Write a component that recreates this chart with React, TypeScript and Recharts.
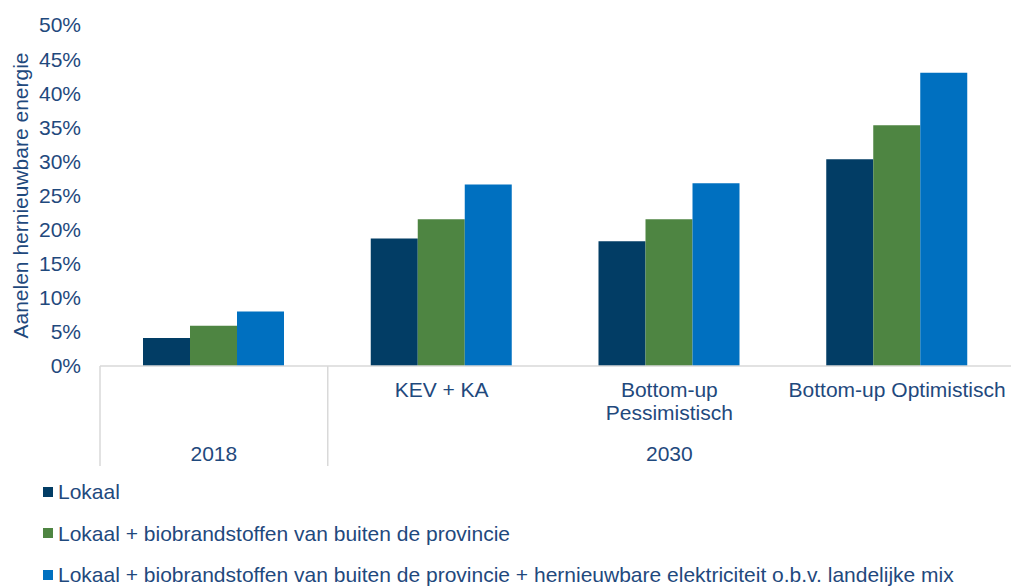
import React from "react";
import {Bar, BarChart, Legend, XAxis, YAxis} from "recharts";

// waarden (in %)
const periods = ["2018", "2030", "2030", "2030"];
const scenarioLines = [[], ["KEV + KA"], ["Bottom-up", "Pessimistisch"], ["Bottom-up Optimistisch"]];
const lokaal = [4.1, 18.7, 18.3, 30.3];
const lokaalBio = [5.9, 21.5, 21.5, 35.3];
const lokaalBioElek = [8.0, 26.6, 26.8, 43.0];
const yTicks = [0, 5, 10, 15, 20, 25, 30, 35, 40, 45, 50];

const seriesNames = [
    "Lokaal",
    "Lokaal + biobrandstoffen van buiten de provincie",
    "Lokaal + biobrandstoffen van buiten de provincie + hernieuwbare elektriciteit o.b.v. landelijke mix",
];

const data = periods.map((p, i) => ({
    id: String(i),
    lokaal: lokaal[i],
    lokaalBio: lokaalBio[i],
    lokaalBioElek: lokaalBioElek[i],
}));

const WIDTH = 1011;
const HEIGHT = 586;
const Y_AXIS_W = 100;
const TEXT = "#1F497D";
const FONT = "'Liberation Sans', Arial, sans-serif";
const FS = 21;

function CategoryTick(props) {
    const {x, y, index} = props;
    const band = (WIDTH - Y_AXIS_W) / periods.length;
    const lines = scenarioLines[index] || [];
    const first = periods.indexOf(periods[index]);
    const last = periods.lastIndexOf(periods[index]);
    const isStart = first === index;
    return (
        <g>
            {lines.map((l, k) => (
                <text key={k} x={x} y={y + 31 + k * 23} textAnchor="middle"
                      fill={TEXT} fontSize={FS} fontFamily={FONT}>{l}</text>
            ))}
            {isStart && (
                <text x={x + ((first + last) / 2 - index) * band} y={y + 95} textAnchor="middle"
                      fill={TEXT} fontSize={FS} fontFamily={FONT}>{periods[index]}</text>
            )}
            {isStart && (
                <line x1={x - band / 2} x2={x - band / 2} y1={y} y2={y + 100}
                      stroke="#D9D9D9" strokeWidth={1.5}/>
            )}
        </g>
    );
}

function LegendBox(props) {
    const {payload} = props;
    return (
        <div style={{height: 120, paddingTop: 5, paddingLeft: 43, boxSizing: "border-box"}}>
            {(payload || []).map((item, i) => (
                <div key={i} style={{height: 41.5, lineHeight: "41.5px", display: "flex", alignItems: "center"}}>
                    <span style={{width: 10, height: 10, background: item.color, display: "inline-block", marginRight: 5}}/>
                    <span style={{color: TEXT, fontSize: FS, fontFamily: FONT}}>{item.value}</span>
                </div>
            ))}
        </div>
    );
}

function YLabel(props) {
    const vb = props.viewBox;
    const cx = vb.x + 20;
    const cy = vb.y + vb.height / 2;
    return (
        <text x={cx} y={cy} transform={`rotate(-90, ${cx}, ${cy})`} textAnchor="middle"
              dominantBaseline="central" fill={TEXT} fontSize={FS} fontFamily={FONT}>
            Aanelen hernieuwbare energie
        </text>
    );
}

export default function App() {
    return (
        <div>
            <style>{"body{margin:0}"}</style>
            <BarChart width={WIDTH} height={HEIGHT} data={data} barGap={0}
                      margin={{top: 25, right: 0, left: 0, bottom: 0}}>
                <XAxis dataKey="id" height={100} tick={<CategoryTick/>} tickLine={false}
                       tickSize={0} tickMargin={0} interval={0}
                       axisLine={{stroke: "#D9D9D9", strokeWidth: 1.5}}/>
                <YAxis width={Y_AXIS_W} domain={[0, 50]} ticks={yTicks} axisLine={false}
                       tickLine={false} tickSize={0} tickMargin={19}
                       tickFormatter={(v) => `${v}%`}
                       tick={{fill: TEXT, fontSize: FS, fontFamily: FONT}}
                       label={{content: YLabel}}/>
                <Legend verticalAlign="bottom" align="left" content={<LegendBox/>}/>
                <Bar dataKey="lokaal" name={seriesNames[0]} fill="#023D65" barSize={47} isAnimationActive={false}/>
                <Bar dataKey="lokaalBio" name={seriesNames[1]} fill="#4E8542" barSize={47} isAnimationActive={false}/>
                <Bar dataKey="lokaalBioElek" name={seriesNames[2]} fill="#0070C0" barSize={47} isAnimationActive={false}/>
            </BarChart>
        </div>
    );
}
